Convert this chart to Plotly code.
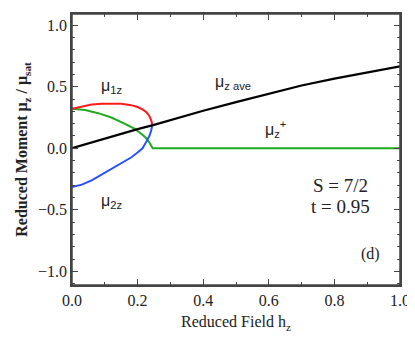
import plotly.graph_objects as go

# mu_1z (red) and mu_2z (blue) below the critical field
h_1z = [0.0, 0.03, 0.06, 0.09, 0.12, 0.15, 0.18, 0.20, 0.215, 0.228, 0.236, 0.241, 0.245]
mu_1z = [0.32, 0.34, 0.355, 0.362, 0.365, 0.362, 0.35, 0.335, 0.315, 0.29, 0.26, 0.23, 0.19]

h_2z = [0.0, 0.03, 0.06, 0.09, 0.12, 0.15, 0.18, 0.20, 0.215, 0.228, 0.236, 0.241, 0.245]
mu_2z = [-0.315, -0.295, -0.26, -0.215, -0.17, -0.12, -0.075, -0.035, 0.0, 0.06, 0.10, 0.14, 0.19]

# mu_z+ (green)
h_plus = [0.0, 0.04, 0.08, 0.12, 0.16, 0.19, 0.21, 0.225, 0.235, 0.242, 0.246, 0.25, 0.5, 1.0]
mu_plus = [0.32, 0.31, 0.285, 0.25, 0.2, 0.16, 0.12, 0.085, 0.05, 0.02, 0.0, 0.0, 0.0, 0.0]

# mu_z ave (black)
h_ave = [0.0, 0.1, 0.2, 0.25, 0.3, 0.4, 0.5, 0.6, 0.7, 0.8, 0.9, 1.0]
mu_ave = [0.0, 0.08, 0.155, 0.19, 0.23, 0.305, 0.375, 0.445, 0.51, 0.565, 0.615, 0.665]

fig = go.Figure()
fig.add_trace(go.Scatter(x=h_plus, y=mu_plus, mode="lines", line=dict(color="#1faa1f", width=2)))
fig.add_trace(go.Scatter(x=h_1z, y=mu_1z, mode="lines", line=dict(color="#ff1a1a", width=2)))
fig.add_trace(go.Scatter(x=h_2z, y=mu_2z, mode="lines", line=dict(color="#2850ff", width=2)))
fig.add_trace(go.Scatter(x=h_ave, y=mu_ave, mode="lines", line=dict(color="black", width=2.2)))

axis_style = dict(
    showline=True, linecolor="#444", linewidth=1.5, mirror="allticks",
    ticks="inside", ticklen=6, tickcolor="#444", tickwidth=1.2,
    showgrid=False, zeroline=False, automargin=False,
    tickfont=dict(family="Liberation Serif", size=16, color="#222"),
)
fig.update_xaxes(range=[0, 1.0], dtick=0.2, tickformat=".1f",
                 minor=dict(dtick=0.1, ticks="inside", ticklen=3, tickcolor="#444"),
                 title=dict(text="Reduced Field h<sub>z</sub>", standoff=8,
                            font=dict(family="Liberation Serif", size=16, color="#222")),
                 **axis_style)
fig.update_yaxes(range=[-1.11, 1.09], dtick=0.5, tickformat=".1f",
                 minor=dict(dtick=0.1, ticks="inside", ticklen=3, tickcolor="#444"),
                 title=dict(text="<b>Reduced Moment μ<sub>z</sub> / μ<sub>sat</sub></b>", standoff=6,
                            font=dict(family="Liberation Serif", size=16, color="#222")),
                 **axis_style)

# frame around the plot area
fig.add_shape(type="rect", xref="x domain", yref="y domain", x0=0, x1=1, y0=0, y1=1,
              line=dict(color="#444", width=1.5), layer="above")

sans = dict(family="Liberation Sans", size=16, color="#222")
serif = dict(family="Liberation Serif", size=19, color="#222")
notes = [
    (0.12, 0.50, "μ<sub>1z</sub>", sans),
    (0.49, 0.53, "μ<sub>z ave</sub>", sans),
    (0.62, 0.16, "μ<sub>z</sub><sup>+</sup>", sans),
    (0.12, -0.43, "μ<sub>2z</sub>", sans),
    (0.82, -0.30, "S = 7/2", serif),
    (0.82, -0.47, "t = 0.95", serif),
    (0.91, -0.86, "(d)", dict(family="Liberation Serif", size=16, color="#222")),
]
for x, y, t, f in notes:
    fig.add_annotation(x=x, y=y, text=t, showarrow=False, font=f)

# page body adds an 8px margin; keep the height inside the window so no scrollbar appears
fig.update_layout(
    width=407, height=334,
    margin=dict(l=64, r=15, t=6, b=57),
    plot_bgcolor="white", paper_bgcolor="white",
    showlegend=False,
)
fig.write_html("out.html")
